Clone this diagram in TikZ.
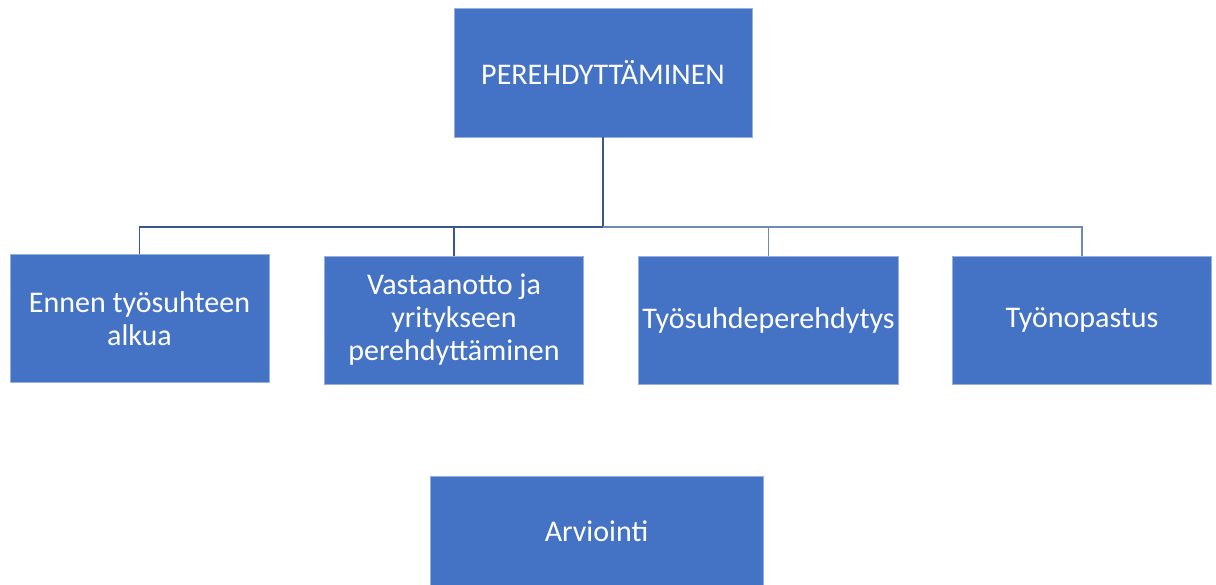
\documentclass[tikz,border=0pt]{standalone}
\usepackage{fontspec}
\setmainfont{Carlito}
\usepackage{tikz}
\usetikzlibrary{positioning}
\definecolor{boxblue}{RGB}{68,114,196}
\definecolor{boxedge}{RGB}{150,175,222}
\definecolor{linedark}{RGB}{58,88,140}
\definecolor{linelight}{RGB}{112,138,178}
\tikzset{
  topbox/.style={draw=boxedge,line width=0.4pt,fill=boxblue,text=white,align=center,
    minimum width=149pt,minimum height=64.5pt,inner sep=2pt,font=\fontsize{15}{16.5}\selectfont},
  subbox/.style={topbox,minimum width=129.5pt,minimum height=64pt},
  lastbox/.style={topbox,minimum width=166.5pt,minimum height=55pt},
  linkd/.style={draw=linedark,line width=0.9pt},
  linkl/.style={draw=linelight,line width=0.9pt}
}
\begin{document}
\begin{tikzpicture}[x=0.5pt,y=-0.5pt]
  \useasboundingbox (0,0) rectangle (1216,584);
  \clip (0,0) rectangle (1216,584);
  \node[topbox] (top) at (603,72.5) {PEREHDYTTÄMINEN};
  \node[subbox] (ennen) at (139.5,318.5) {Ennen työsuhteen\\alkua};
  \node[subbox] (vast) at (454,320) {Vastaanotto ja\\yritykseen\\perehdyttäminen};
  \node[subbox] (tyosuhde) at (768.5,320) {Työsuhdeperehdytys};
  \node[subbox] (opastus) at (1082,320) {Työnopastus};
  \node[lastbox] (arv) at (596.5,531) {Arviointi};
  \coordinate (bus) at (603,227);
  \draw[linkd] (top.south) -- (bus) -| (ennen.north);
  \draw[linkd] (top.south) -- (bus) -| (vast.north);
  \draw[linkl] (bus) -| (tyosuhde.north);
  \draw[linkl] (bus) -| (opastus.north);
\end{tikzpicture}
\end{document}
